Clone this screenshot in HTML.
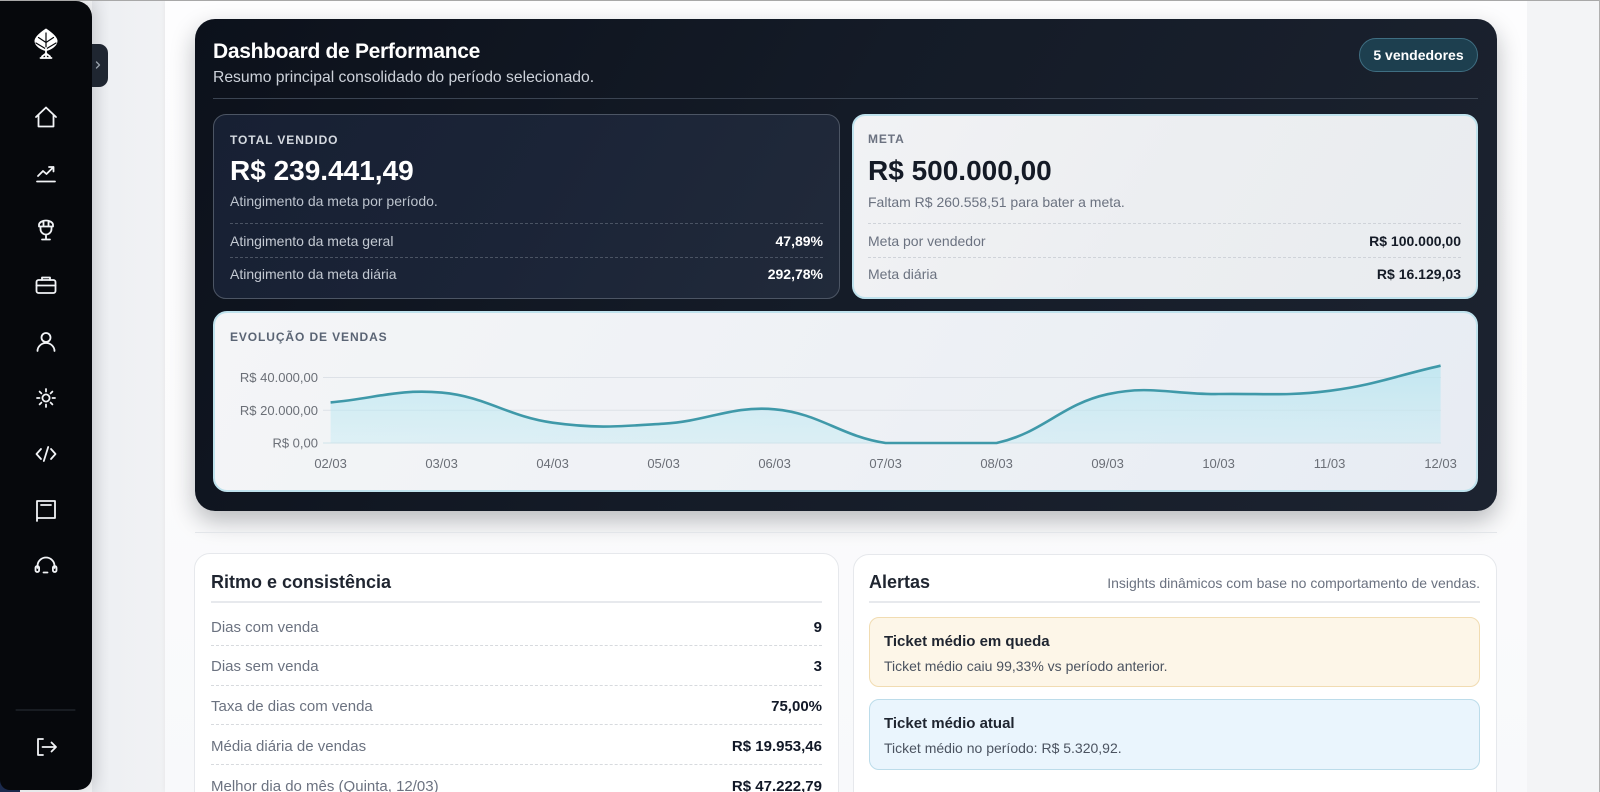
<!DOCTYPE html>
<html><head><meta charset="utf-8">
<style>
*{margin:0;padding:0;box-sizing:border-box}
html,body{width:1600px;height:792px;overflow:hidden}
body{position:relative;background:#f3f4f6;font-family:"Liberation Sans",Arial,sans-serif;}
.a{position:absolute;white-space:nowrap;line-height:1}
.b{font-weight:700}
</style></head>
<body>
<!-- main white area -->
<div class="a" style="left:92px;top:0;width:73px;height:792px;background:linear-gradient(90deg,#e4e6ea 0%,#eef0f3 25%,#f1f2f4 100%)"></div>
<div class="a" style="left:165px;top:0;width:1362px;height:792px;background:linear-gradient(180deg,#fdfdfe 0%,#fbfbfc 60%,#f8f9fb 100%);box-shadow:0 0 6px rgba(0,0,0,0.05)"></div>
<div class="a" style="left:1527px;top:0;width:73px;height:792px;background:#f3f4f6"></div>
<div class="a" style="left:0;top:0;width:1600px;height:1px;background:#a8a8a8;z-index:5"></div>
<div class="a" style="left:1599px;top:0;width:1px;height:792px;background:#b0b0b0;z-index:5"></div>
<div class="a" style="left:0;top:770px;width:20px;height:22px;background:#1c2b4f"></div>

<!-- sidebar -->
<div class="a" style="left:0;top:1px;width:92px;height:789px;background:#06080c;border-radius:0 16px 14px 10px;box-shadow:4px 0 14px rgba(0,0,0,0.10)"></div>
<div class="a" style="left:92px;top:44px;width:16px;height:43px;background:#1f2631;border-radius:0 9px 9px 0"></div>
<svg class="a" style="left:0;top:0" width="110" height="792" viewBox="0 0 110 792" fill="none" stroke="#f2f4f7" stroke-width="1.8" stroke-linecap="round" stroke-linejoin="round">
  <path d="M96.5 62 l3 3 l-3 3" stroke="#9aa3ad" stroke-width="1.3"/>
  <!-- logo -->
  <path d="M46 29 C49 31 57 36.5 57 41 C57 45.5 51 49.5 46 50.5 C41 49.5 35 45.5 35 41 C35 36.5 43 31 46 29 Z" fill="#ffffff" stroke="#ffffff" stroke-width="1"/>
  <path d="M36 43 L46 49 L56 43 M38.5 37.5 L46 42.5 L53.5 37.5 M46 33 V49" stroke="#06080c" stroke-width="1.2"/>
  <path d="M46 48 V57.5 M40.5 58 H51.5 M46 53.5 L42 56.5 M46 53.5 L50 56.5" stroke="#ffffff" stroke-width="1.8"/>
  <!-- home -->
  <path d="M36 117 L46 107.5 L56 117 M38.5 115 V126.5 H53.5 V115"/>
  <!-- chart -->
  <path d="M38 176 L43 171 L46.5 174 L53.5 167 M49 167 H53.5 V171.5 M37 181.5 H55"/>
  <!-- trophy -->
  <path d="M39 225 a7 4.5 0 0 1 14 0 v1.5 h-14 z M43.5 221.5 v4.5 M48.5 221.5 v4.5 M40.5 226.5 v2.5 a5.5 5.5 0 0 0 11 0 v-2.5 M46 234.5 v4.5 M42 239.5 h8"/>
  <!-- briefcase -->
  <rect x="36.5" y="280" width="19" height="13" rx="2"/>
  <path d="M42 280 v-2.5 h8 v2.5 M36.5 285.5 h19"/>
  <!-- user -->
  <circle cx="46" cy="337.5" r="4.5"/>
  <path d="M37.5 351 a8.5 8 0 0 1 17 0"/>
  <!-- sun -->
  <circle cx="46" cy="398" r="3.6"/>
  <path d="M46 389 v2.5 M46 404.5 v2.5 M37 398 h2.5 M52.5 398 h2.5 M39.6 391.6 l1.8 1.8 M50.6 402.6 l1.8 1.8 M52.4 391.6 l-1.8 1.8 M41.4 402.6 l-1.8 1.8"/>
  <!-- code -->
  <path d="M41 449 l-4.5 5 l4.5 5 M51 449 l4.5 5 l-4.5 5 M48.2 447 l-4.4 14"/>
  <!-- book -->
  <path d="M37 521 V501 H55 V518 H38.5 Q37 518 37 519.5 M41 505 h10"/>
  <!-- headset -->
  <path d="M37.5 568 v-2 a8.5 8.5 0 0 1 17 0 v2"/>
  <rect x="35.5" y="566" width="3.6" height="6" rx="1.8"/>
  <rect x="52.9" y="566" width="3.6" height="6" rx="1.8"/>
  <path d="M43.5 572.5 h4"/>
  <!-- separator -->
  <path d="M16 710 H75" stroke="#2a2f38" stroke-width="1"/>
  <!-- logout -->
  <path d="M43 739 H38 V755 H43 M42.5 747 H56 M51.5 742.5 l4.5 4.5 l-4.5 4.5"/>
</svg>

<!-- dark card -->
<div class="a" style="left:195px;top:19px;width:1302px;height:492px;border-radius:20px;background:linear-gradient(120deg,#0c111b 0%,#141b27 45%,#1c2330 100%);box-shadow:0 10px 24px rgba(15,20,30,0.28)"></div>
<div class="a b" style="left:213px;top:41px;font-size:21px;color:#ffffff;letter-spacing:-0.3px">Dashboard de Performance</div>
<div class="a" style="left:213px;top:69.6px;font-size:15.7px;color:#cdd2da">Resumo principal consolidado do período selecionado.</div>
<div class="a" style="left:1359px;top:38px;width:119px;height:34px;border-radius:17px;background:#1d3f4f;border:1px solid #3f6e82;display:flex;align-items:center;justify-content:center;font-size:14px;font-weight:700;color:#ffffff">5 vendedores</div>
<div class="a" style="left:213px;top:98px;width:1265px;height:1px;background:#3b4452"></div>

<!-- total vendido -->
<div class="a" style="left:213px;top:114px;width:627px;height:185px;border-radius:13px;border:1px solid #4c5564;background:linear-gradient(120deg,#172033 0%,#1b2437 50%,#212a3a 100%)"></div>
<div class="a b" style="left:230px;top:134px;font-size:12px;letter-spacing:0.9px;color:#d5dae1">TOTAL VENDIDO</div>
<div class="a b" style="left:230px;top:157px;font-size:28px;color:#ffffff">R$ 239.441,49</div>
<div class="a" style="left:230px;top:194px;font-size:14px;color:#bcc3cd">Atingimento da meta por período.</div>
<div class="a" style="left:230px;top:223px;width:593px;border-top:1px dashed #4a5363"></div>
<div class="a" style="left:230px;top:234px;font-size:14px;color:#c3c9d2">Atingimento da meta geral</div>
<div class="a b" style="left:623px;width:200px;text-align:right;top:234px;font-size:14px;color:#ffffff">47,89%</div>
<div class="a" style="left:230px;top:257px;width:593px;border-top:1px dashed #4a5363"></div>
<div class="a" style="left:230px;top:267px;font-size:14px;color:#c3c9d2">Atingimento da meta diária</div>
<div class="a b" style="left:623px;width:200px;text-align:right;top:267px;font-size:14px;color:#ffffff">292,78%</div>

<!-- meta -->
<div class="a" style="left:852px;top:114px;width:626px;height:185px;border-radius:13px;border:2px solid #bfe2ed;background:linear-gradient(120deg,#f1f2f4 0%,#eceef1 50%,#e9ecef 100%)"></div>
<div class="a b" style="left:868px;top:133px;font-size:12px;letter-spacing:0.9px;color:#6b7280">META</div>
<div class="a b" style="left:868px;top:157px;font-size:28px;color:#141a26">R$ 500.000,00</div>
<div class="a" style="left:868px;top:195px;font-size:14px;color:#6b7280">Faltam R$ 260.558,51 para bater a meta.</div>
<div class="a" style="left:868px;top:223px;width:593px;border-top:1px dashed #cfd3d9"></div>
<div class="a" style="left:868px;top:234px;font-size:14px;color:#6b7280">Meta por vendedor</div>
<div class="a b" style="left:1261px;width:200px;text-align:right;top:234px;font-size:14px;color:#151b27">R$ 100.000,00</div>
<div class="a" style="left:868px;top:257px;width:593px;border-top:1px dashed #cfd3d9"></div>
<div class="a" style="left:868px;top:267px;font-size:14px;color:#6b7280">Meta diária</div>
<div class="a b" style="left:1261px;width:200px;text-align:right;top:267px;font-size:14px;color:#151b27">R$ 16.129,03</div>

<!-- chart card -->
<div class="a" style="left:213px;top:311px;width:1265px;height:181px;border-radius:14px;border:2px solid #bfe2ed;background:linear-gradient(120deg,#f4f5f7 0%,#eef1f5 50%,#e7ecf3 100%)"></div>
<div class="a b" style="left:230px;top:331px;font-size:12px;letter-spacing:0.9px;color:#5a6474">EVOLUÇÃO DE VENDAS</div>
<svg class="a" style="left:0;top:0" width="1600" height="792" viewBox="0 0 1600 792">
  <defs>
    <linearGradient id="fg" x1="0" y1="365" x2="0" y2="443" gradientUnits="userSpaceOnUse">
      <stop offset="0" stop-color="#aee4f0" stop-opacity="0.65"/>
      <stop offset="1" stop-color="#c4ebf4" stop-opacity="0.45"/>
    </linearGradient>
  </defs>
  <line x1="323" y1="377.5" x2="1441" y2="377.5" stroke="#dde1e7" stroke-width="1"/>
  <line x1="323" y1="410.3" x2="1441" y2="410.3" stroke="#dde1e7" stroke-width="1"/>
  <path d="M330.6,402.4 C375.0,398.5 397.9,388.6 441.6,392.6 C486.7,396.7 507.4,416.4 552.6,422.7 C596.2,428.8 619.4,426.4 663.6,423.7 C708.2,421.0 731.0,405.5 774.6,409.3 C819.8,413.2 840.2,436.1 885.6,443 C929.0,443 954.2,443 996.6,443 C1043.0,432.8 1061.2,404.4 1107.6,394.2 C1150.0,384.8 1174.2,394.7 1218.6,394.0 C1263.0,393.3 1285.7,396.4 1329.6,390.8 C1374.5,385.1 1396.2,375.7 1440.6,365.7 L1440.6,443 L330.6,443 Z" fill="url(#fg)"/>
  <line x1="323" y1="443" x2="1441" y2="443" stroke="#cfe3ea" stroke-width="1"/>
  <path d="M330.6,402.4 C375.0,398.5 397.9,388.6 441.6,392.6 C486.7,396.7 507.4,416.4 552.6,422.7 C596.2,428.8 619.4,426.4 663.6,423.7 C708.2,421.0 731.0,405.5 774.6,409.3 C819.8,413.2 840.2,436.1 885.6,443 C929.0,443 954.2,443 996.6,443 C1043.0,432.8 1061.2,404.4 1107.6,394.2 C1150.0,384.8 1174.2,394.7 1218.6,394.0 C1263.0,393.3 1285.7,396.4 1329.6,390.8 C1374.5,385.1 1396.2,375.7 1440.6,365.7" fill="none" stroke="#3f99a9" stroke-width="2.6" stroke-linejoin="round"/>
  <g font-family="Liberation Sans, Arial, sans-serif" font-size="13" fill="#6b6f77">
    <text x="318" y="382" text-anchor="end">R$ 40.000,00</text>
    <text x="318" y="414.8" text-anchor="end">R$ 20.000,00</text>
    <text x="318" y="447.5" text-anchor="end">R$ 0,00</text>
    <g text-anchor="middle">
      <text x="330.6" y="468">02/03</text>
      <text x="441.6" y="468">03/03</text>
      <text x="552.6" y="468">04/03</text>
      <text x="663.6" y="468">05/03</text>
      <text x="774.6" y="468">06/03</text>
      <text x="885.6" y="468">07/03</text>
      <text x="996.6" y="468">08/03</text>
      <text x="1107.6" y="468">09/03</text>
      <text x="1218.6" y="468">10/03</text>
      <text x="1329.6" y="468">11/03</text>
      <text x="1440.6" y="468">12/03</text>
    </g>
  </g>
</svg>

<!-- separator -->
<div class="a" style="left:195px;top:532px;width:1302px;height:1px;background:#e2e5e9"></div>

<!-- ritmo card -->
<div class="a" style="left:194px;top:553px;width:645px;height:260px;border-radius:16px;border:1px solid #e6e8ec;background:#ffffff"></div>
<div class="a b" style="left:211px;top:573px;font-size:18px;color:#1f2530">Ritmo e consistência</div>
<div class="a" style="left:211px;top:601px;width:611px;height:2px;background:#e7e9ed"></div>
<div class="a" style="left:211px;top:619.6px;font-size:15px;color:#6b7280">Dias com venda</div>
<div class="a b" style="left:622px;width:200px;text-align:right;top:619.6px;font-size:15px;color:#111827">9</div>
<div class="a" style="left:211px;top:645px;width:611px;border-top:1px dashed #d7dade"></div>
<div class="a" style="left:211px;top:659.3px;font-size:15px;color:#6b7280">Dias sem venda</div>
<div class="a b" style="left:622px;width:200px;text-align:right;top:659.3px;font-size:15px;color:#111827">3</div>
<div class="a" style="left:211px;top:684.5px;width:611px;border-top:1px dashed #d7dade"></div>
<div class="a" style="left:211px;top:699.1px;font-size:15px;color:#6b7280">Taxa de dias com venda</div>
<div class="a b" style="left:622px;width:200px;text-align:right;top:699.1px;font-size:15px;color:#111827">75,00%</div>
<div class="a" style="left:211px;top:724px;width:611px;border-top:1px dashed #d7dade"></div>
<div class="a" style="left:211px;top:738.9px;font-size:15px;color:#6b7280">Média diária de vendas</div>
<div class="a b" style="left:622px;width:200px;text-align:right;top:738.9px;font-size:15px;color:#111827">R$ 19.953,46</div>
<div class="a" style="left:211px;top:764px;width:611px;border-top:1px dashed #d7dade"></div>
<div class="a" style="left:211px;top:778.7px;font-size:15px;color:#6b7280">Melhor dia do mês (Quinta, 12/03)</div>
<div class="a b" style="left:622px;width:200px;text-align:right;top:778.7px;font-size:15px;color:#111827">R$ 47.222,79</div>

<!-- alertas card -->
<div class="a" style="left:853px;top:554px;width:644px;height:260px;border-radius:16px;border:1px solid #e6e8ec;background:#ffffff"></div>
<div class="a b" style="left:869px;top:573px;font-size:18px;color:#1f2530">Alertas</div>
<div class="a" style="left:1080px;width:400px;text-align:right;top:576px;font-size:14px;color:#6b7280">Insights dinâmicos com base no comportamento de vendas.</div>
<div class="a" style="left:869px;top:601px;width:611px;height:2px;background:#e7e9ed"></div>
<div class="a" style="left:869px;top:617px;width:611px;height:70px;border-radius:10px;border:1px solid #f1dcb2;background:#fdf6e8"></div>
<div class="a b" style="left:884px;top:634.3px;font-size:15px;color:#1f2530">Ticket médio em queda</div>
<div class="a" style="left:884px;top:659.1px;font-size:14px;color:#4b5360">Ticket médio caiu 99,33% vs período anterior.</div>
<div class="a" style="left:869px;top:699px;width:611px;height:71px;border-radius:10px;border:1px solid #bcdcea;background:#eaf5fd"></div>
<div class="a b" style="left:884px;top:715.6px;font-size:15px;color:#1f2530">Ticket médio atual</div>
<div class="a" style="left:884px;top:741.4px;font-size:14px;color:#4b5360">Ticket médio no período: R$ 5.320,92.</div>
</body></html>
